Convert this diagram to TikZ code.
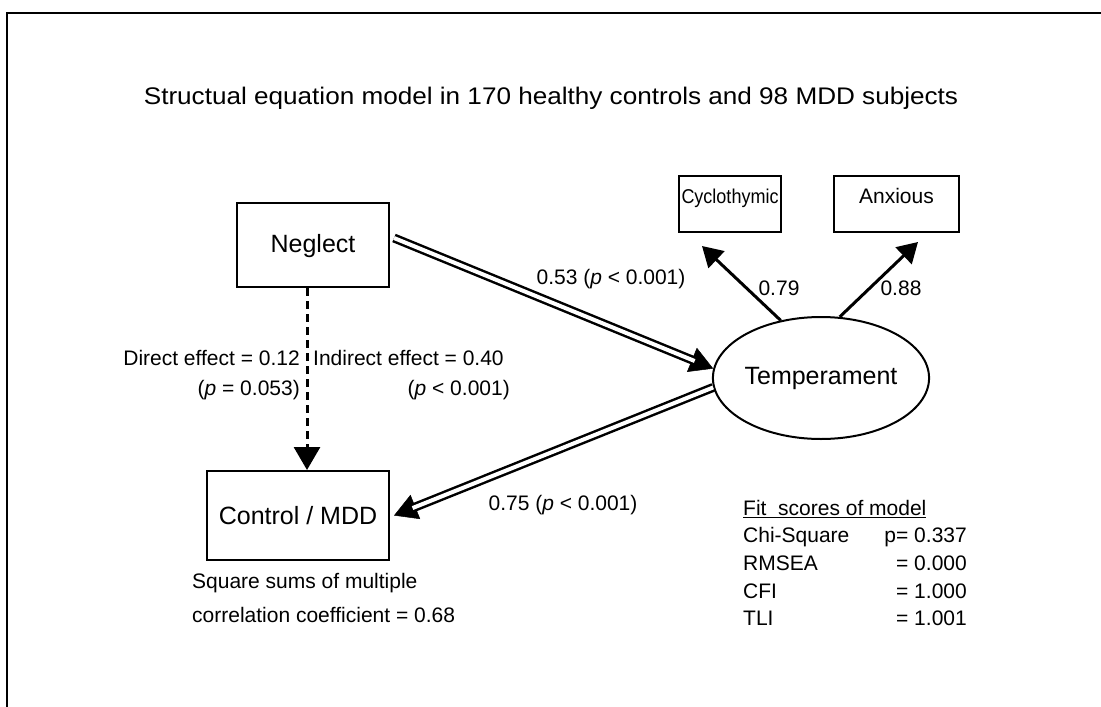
\documentclass[tikz,border=0pt]{standalone}
\usepackage{fontspec}
\setmainfont{Liberation Sans}
\usetikzlibrary{arrows.meta,shapes.geometric}
\begin{document}
\begin{tikzpicture}[x=1pt,y=-1pt,
  box/.style={draw,line width=2pt,inner sep=0pt},
  lbl/.style={font=\fontsize{21}{25}\selectfont,inner sep=0pt},
  big/.style={font=\fontsize{25}{30}\selectfont},
  tip/.style={-{Triangle[length=23pt,width=26pt]}},
  stip/.style={-{Triangle[length=20pt,width=23pt]}},
  thinarrow/.style={line width=0.5pt},
  dbl/.style={double,line width=2.5pt,double distance=4pt,shorten >=20pt}]
\useasboundingbox (0,0) rectangle (1101,707);
\draw[line width=2pt] (1101,12.5) -- (6.5,12.5) -- (6.5,707);
\node[lbl,font=\fontsize{24}{28}\selectfont] (title) at (551,98) {\scalebox{1.088}[1]{Structual equation model in 170 healthy controls and 98 MDD subjects}};

% nodes
\node[box,big,minimum width=152,minimum height=84,text height=49,text depth=35] (neg) at (313,245) {Neglect};
\node[box,big,minimum width=182,minimum height=89] (ctrl) at (298,515.5) {Control / MDD};
\node[ellipse,draw,line width=2pt,big,minimum width=214,minimum height=122,inner sep=0pt] (temp) at (821,378) {Temperament};
\node[box,font=\fontsize{20}{24}\selectfont,minimum width=102,minimum height=56,text height=27,text depth=29] (cyc) at (730,204) {\scalebox{0.9}[1]{Cyclothymic}};
\node[box,lbl,minimum width=125,minimum height=56,text height=27,text depth=29] (anx) at (896.5,204) {Anxious};

% connector end points
\coordinate (negout) at ([shift={(-6,0)}]neg.south);
\coordinate (ctrlin) at ([shift={(9,0)}]ctrl.north);
\coordinate (cycin) at ([shift={(-28,13)}]cyc.south);
\coordinate (anxin) at ([shift={(21.5,9)}]anx.south);
\coordinate (negr) at ([shift={(4,-7)}]neg.east);
\coordinate (ctrlr) at ([shift={(4,0)}]ctrl.east);

% dashed direct effect
\draw[tip,line width=3pt,dash pattern=on 8pt off 5pt] (negout) -- (ctrlin);

% loadings
\draw[stip,line width=3pt] (temp.125) -- (cycin);
\draw[stip,line width=3pt] (temp.73) -- (anxin);

% double arrows
\draw[tip,thinarrow] (negr) -- (temp.175);
\draw[dbl] (negr) -- (temp.175);
\draw[tip,thinarrow] (temp.185) -- (ctrlr);
\draw[dbl] (temp.185) -- (ctrlr);

% labels
\node[lbl] (l079) at (779,288) {0.79};
\node[lbl] (l088) at (901,288) {0.88};
\node[lbl] (l053) at (611,279) {0.53 (\textit{p} < 0.001)};
\node[lbl] (l075) at (563,505) {0.75 (\textit{p} < 0.001)};
\node[lbl,anchor=east] (dir) at (300,358) {Direct effect = 0.12};
\node[lbl,anchor=east] (dirp) at (300,390) {(\textit{p} = 0.053)};
\node[lbl,anchor=west] (ind) at (313,358) {Indirect effect = 0.40};
\node[lbl,anchor=east] (indp) at (510,390) {(\textit{p} < 0.001)};
\node[lbl,anchor=west] (sq1) at (192,583) {Square sums of multiple};
\node[lbl,anchor=west] (sq2) at (192,615) {correlation coefficient = 0.68};

% fit scores
\node[lbl,anchor=west] (fit) at (743,509) {\underline{Fit\ \ scores of model}};
\node[lbl,anchor=west] (chi) at (743,537) {Chi-Square};
\node[lbl,anchor=west] (rmsea) at (743,563) {RMSEA};
\node[lbl,anchor=west] (cfi) at (743,591) {CFI};
\node[lbl,anchor=west] (tli) at (743,618) {TLI};
\node[lbl,anchor=east] (chiv) at (967,537) {p= 0.337};
\node[lbl,anchor=east] (rmseav) at (967,563) {= 0.000};
\node[lbl,anchor=east] (cfiv) at (967,591) {= 1.000};
\node[lbl,anchor=east] (tliv) at (967,618) {= 1.001};
\end{tikzpicture}
\end{document}
